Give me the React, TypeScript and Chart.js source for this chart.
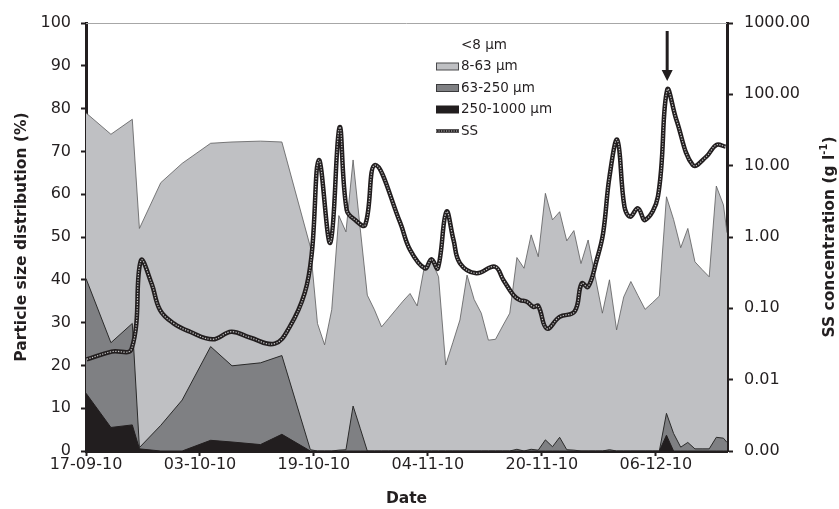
import React, { useEffect, useRef } from 'react';
import { Chart, registerables } from 'chart.js';

Chart.register(...registerables);

// ---- Data ----
const BASE_DATE_UTC = Date.UTC(2010, 8, 17); // 17-09-10 = day 0
const dateTickDays = [0, 16, 32, 48, 64, 80];
const pctTicks = [0, 10, 20, 30, 40, 50, 60, 70, 80, 90, 100];
const ssTicks = [0.001, 0.01, 0.1, 1, 10, 100, 1000];

// sample days (days after 17-09-10) for particle size distribution
const sizeDays = [
  0, 3.5, 6.5, 7.5, 10.5, 13.5, 17.5, 20.5, 24.5, 27.5,
  31.5, 32.5, 33.5, 34.5, 35.5, 36.5, 37.5, 38.5, 39.5, 40.5,
  41.5, 42.5, 43.5, 44.5, 45.5, 46.5, 47.5, 48.5, 49.5, 50.5,
  51.5, 52.5, 53.5, 54.5, 55.5, 56.5, 57.5, 58.5, 59.5, 60.5,
  61.5, 62.5, 63.5, 64.5, 65.5, 66.5, 67.5, 68.5, 69.5, 70.5,
  71.5, 72.5, 73.5, 74.5, 75.5, 76.5, 77.5, 78.5, 79.5, 80.5,
  81.5, 82.5, 83.5, 84.5, 85.5, 86.5, 87.5, 88.5, 89.5, 90,
];
// cumulative % (> 8 µm): top of 8-63 µm area
const cum8to1000 = [
  79, 74, 77.5, 52, 62.7, 67.2, 71.9, 72.2, 72.4, 72.2,
  47.7, 29.8, 24.8, 33, 55, 51.2, 68, 52, 36.4, 33,
  29, 31, 33, 35, 36.8, 33.9, 43, 44.6, 40.7, 20.1,
  25.3, 30.6, 41.1, 35.4, 32.2, 25.9, 26.1, 29.2, 32.2, 45.2,
  42.7, 50.5, 45.4, 60.2, 54, 55.9, 49.1, 51.5, 43.8, 49.3,
  40.7, 32.2, 40, 28.3, 36, 39.6, 36.3, 33.1, 34.6, 36.2,
  59.4, 54.1, 47.5, 52, 44.2, 42.4, 40.7, 61.9, 57.5, 51,
];
// cumulative % (> 63 µm): top of 63-250 µm area
const cum63to1000 = [
  40.3, 25.3, 29.8, 0.8, 6, 11.9, 24.4, 19.9, 20.6, 22.3,
  0.3, 0, 0, 0, 0.2, 0.3, 10.5, 5.3, 0, 0,
  0, 0, 0, 0, 0, 0, 0, 0, 0, 0,
  0, 0, 0, 0, 0, 0, 0, 0, 0, 0.4,
  0, 0.4, 0.2, 2.6, 1.0, 3.2, 0.3, 0.2, 0, 0,
  0, 0, 0.3, 0, 0, 0, 0, 0, 0, 0,
  8.8, 4.1, 0.9, 2.0, 0.5, 0.5, 0.5, 3.2, 3.0, 2,
];
// % 250-1000 µm
const pct250to1000 = [
  13.5, 5.5, 6.1, 0.5, 0, 0, 2.5, 2.1, 1.5, 3.9,
  0, 0, 0, 0, 0, 0, 0, 0, 0, 0,
  0, 0, 0, 0, 0, 0, 0, 0, 0, 0,
  0, 0, 0, 0, 0, 0, 0, 0, 0, 0,
  0, 0, 0, 0, 0, 0, 0, 0, 0, 0,
  0, 0, 0, 0, 0, 0, 0, 0, 0, 0,
  3.7, 0, 0, 0, 0, 0, 0, 0, 0, 0,
];

// suspended sediment concentration (g l-1)
const ssDays = [
  0.1, 3.6, 6.4, 7.7, 9.2, 10.4, 12.3, 14.6, 17.8, 20.4,
  23.0, 26.5, 28.6, 30.7, 31.7, 32.7, 34.3, 35.6, 36.6, 37.8,
  39.2, 40.6, 44.1, 45.5, 47.6, 48.5, 49.4, 50.6, 51.6, 52.5,
  54.8, 57.4, 58.6, 60.0, 60.9, 61.9, 62.8, 63.5, 64.7, 66.5,
  68.6, 69.6, 70.5, 71.7, 72.6, 73.5, 74.6, 75.6, 76.4, 77.5,
  78.5, 80.3, 81.6, 82.9, 85.2, 87.1, 88.5, 89.8,
];
const ssValues = [
  0.0193, 0.0247, 0.027, 0.466, 0.224, 0.0946, 0.0616, 0.047, 0.0368, 0.047,
  0.039, 0.032, 0.055, 0.163, 0.59, 12, 0.83, 34.5, 2.4, 1.73,
  1.47, 10.2, 1.6, 0.66, 0.363, 0.486, 0.363, 2.26, 0.91, 0.43,
  0.31, 0.384, 0.25, 0.154, 0.131, 0.124, 0.105, 0.108, 0.052, 0.076,
  0.09, 0.224, 0.2, 0.475, 1.12, 7.0, 22.9, 2.66, 1.93, 2.52,
  1.73, 3.67, 115, 43.7, 10.2, 13.4, 19.5, 18.5,
];

const legendLabels = ['<8 µm', '8-63 µm', '63-250 µm', '250-1000 µm', 'SS'];

// ---- Styles ----
const FONT = '"DejaVu Sans", sans-serif';
const C_LIGHT = '#bfc0c3';
const C_MID = '#7f8083';
const C_DARK = '#221e1f';
const C_TEXT = '#231f20';

function fmtDate(day: number): string {
  const d = new Date(BASE_DATE_UTC + day * 86400000);
  const dd = String(d.getUTCDate()).padStart(2, '0');
  const mm = String(d.getUTCMonth() + 1).padStart(2, '0');
  const yy = String(d.getUTCFullYear() % 100).padStart(2, '0');
  return `${dd}-${mm}-${yy}`;
}

const decorPlugin = {
  id: 'decor',
  afterDraw(chart: any) {
    const { ctx, chartArea: a, scales } = chart;
    const xs = scales.x;
    const y2 = scales.y2;
    ctx.save();

    // thin grey top frame line
    ctx.strokeStyle = '#a7a7a7';
    ctx.lineWidth = 1;
    ctx.beginPath();
    ctx.moveTo(a.left, a.top + 0.5);
    ctx.lineTo(a.right, a.top + 0.5);
    ctx.stroke();

    // arrow pointing at the SS maximum
    let im = 0;
    ssValues.forEach((v, i) => { if (v > ssValues[im]) im = i; });
    const px = xs.getPixelForValue(ssDays[im]);
    const py = y2.getPixelForValue(ssValues[im]);
    const tip = py - 9;
    const top = a.top + 8;
    ctx.strokeStyle = C_DARK;
    ctx.fillStyle = C_DARK;
    ctx.lineWidth = 3;
    ctx.beginPath();
    ctx.moveTo(px, top);
    ctx.lineTo(px, tip - 9);
    ctx.stroke();
    ctx.beginPath();
    ctx.moveTo(px - 5.5, tip - 11);
    ctx.lineTo(px + 5.5, tip - 11);
    ctx.lineTo(px, tip);
    ctx.closePath();
    ctx.fill();

    // legend inside plot
    const bx = a.left + 350;
    const rowY0 = a.top + 22;
    const rowH = 21.5;
    const fills = ['#ffffff', C_LIGHT, C_MID, C_DARK];
    const strokes = [null, '#4a4a4c', '#3a3a3c', C_DARK];
    ctx.font = `13.5px ${FONT}`;
    ctx.textBaseline = 'middle';
    ctx.textAlign = 'left';
    legendLabels.forEach((lab, i) => {
      const cy = rowY0 + i * rowH;
      if (i < 4) {
        if (strokes[i]) {
          ctx.fillStyle = fills[i];
          ctx.fillRect(bx, cy - 3.5, 23, 7);
          ctx.strokeStyle = strokes[i] as string;
          ctx.lineWidth = 1;
          ctx.strokeRect(bx + 0.5, cy - 3.5, 22, 7);
        }
      } else {
        ctx.strokeStyle = C_DARK;
        ctx.lineWidth = 3.5;
        ctx.beginPath();
        ctx.moveTo(bx, cy);
        ctx.lineTo(bx + 23, cy);
        ctx.stroke();
        ctx.strokeStyle = '#c8c8c8';
        ctx.lineWidth = 1;
        ctx.setLineDash([1.2, 1.3]);
        ctx.beginPath();
        ctx.moveTo(bx, cy);
        ctx.lineTo(bx + 23, cy);
        ctx.stroke();
        ctx.setLineDash([]);
      }
      ctx.fillStyle = C_TEXT;
      ctx.fillText(lab, bx + 25, cy);
    });

    // right axis title with superscript
    const main1 = 'SS concentration (g l';
    const sup = '-1';
    const main2 = ')';
    const fMain = `bold 15.5px ${FONT}`;
    const fSup = `bold 10px ${FONT}`;
    ctx.font = fMain;
    const w1 = ctx.measureText(main1).width;
    const w3 = ctx.measureText(main2).width;
    ctx.font = fSup;
    const w2 = ctx.measureText(sup).width;
    const total = w1 + w2 + w3;
    ctx.translate(chart.width - 9, (a.top + a.bottom) / 2);
    ctx.rotate(-Math.PI / 2);
    ctx.fillStyle = C_TEXT;
    ctx.textBaseline = 'middle';
    ctx.textAlign = 'left';
    let tx = -total / 2;
    ctx.font = fMain;
    ctx.fillText(main1, tx, 0);
    tx += w1;
    ctx.font = fSup;
    ctx.fillText(sup, tx, -6);
    tx += w2;
    ctx.font = fMain;
    ctx.fillText(main2, tx, 0);

    ctx.restore();
  },
};

export default function App() {
  const ref = useRef<HTMLCanvasElement | null>(null);

  useEffect(() => {
    document.body.style.margin = '0';
    const canvas = ref.current;
    if (!canvas) return;

    const toPts = (xsArr: number[], ysArr: number[]) => xsArr.map((x, i) => ({ x, y: ysArr[i] }));

    const chart = new Chart(canvas, {
      type: 'line',
      data: {
        datasets: [
          {
            label: 'SS inner',
            data: toPts(ssDays, ssValues),
            xAxisID: 'x',
            yAxisID: 'y2',
            borderColor: '#c4c4c4',
            borderWidth: 1.2,
            borderDash: [1.3, 1.4],
            tension: 0.4,
            pointRadius: 0,
            fill: false,
            order: 0,
          },
          {
            label: 'SS',
            data: toPts(ssDays, ssValues),
            xAxisID: 'x',
            yAxisID: 'y2',
            borderColor: C_DARK,
            borderWidth: 4.5,
            tension: 0.4,
            pointRadius: 0,
            fill: false,
            order: 1,
          },
          {
            label: '250-1000 µm',
            data: toPts(sizeDays, pct250to1000),
            xAxisID: 'x',
            yAxisID: 'y',
            borderColor: C_DARK,
            borderWidth: 1,
            backgroundColor: C_DARK,
            fill: 'origin',
            tension: 0,
            pointRadius: 0,
            order: 2,
          },
          {
            label: '63-250 µm',
            data: toPts(sizeDays, cum63to1000),
            xAxisID: 'x',
            yAxisID: 'y',
            borderColor: '#2a2a2a',
            borderWidth: 1,
            backgroundColor: C_MID,
            fill: 'origin',
            tension: 0,
            pointRadius: 0,
            order: 3,
          },
          {
            label: '8-63 µm',
            data: toPts(sizeDays, cum8to1000),
            xAxisID: 'x',
            yAxisID: 'y',
            borderColor: '#5a5a5c',
            borderWidth: 0.8,
            backgroundColor: C_LIGHT,
            fill: 'origin',
            tension: 0,
            pointRadius: 0,
            order: 4,
          },
        ],
      },
      options: {
        responsive: false,
        animation: false,
        devicePixelRatio: 1,
        layout: { padding: { top: 23, left: 0, right: 0, bottom: 0 } },
        plugins: {
          legend: { display: false },
          tooltip: { enabled: false },
        },
        events: [],
        scales: {
          x: {
            type: 'linear',
            position: 'bottom',
            min: 0,
            max: 90,
            afterBuildTicks: (s: any) => { s.ticks = dateTickDays.map((v) => ({ value: v })); },
            afterFit: (s: any) => { s.height = 58; },
            ticks: {
              callback: (v: any) => fmtDate(Number(v)),
              font: { family: FONT, size: 16 },
              color: C_TEXT,
              padding: -1,
              maxRotation: 0,
              autoSkip: false,
            },
            grid: { drawOnChartArea: false, tickLength: 5, tickWidth: 2, tickColor: C_DARK },
            border: { display: true, color: C_DARK, width: 3 },
            title: {
              display: true,
              text: 'Date',
              font: { family: FONT, size: 15.5, weight: 'bold' },
              color: C_TEXT,
              padding: { top: 0, bottom: 1 },
            },
          },
          y: {
            type: 'linear',
            position: 'left',
            min: 0,
            max: 100,
            afterBuildTicks: (s: any) => { s.ticks = pctTicks.map((v) => ({ value: v })); },
            afterFit: (s: any) => { s.width = 86; },
            ticks: {
              font: { family: FONT, size: 16 },
              color: C_TEXT,
              padding: 10,
            },
            grid: { drawOnChartArea: false, tickLength: 5, tickWidth: 2, tickColor: C_DARK },
            border: { display: true, color: C_DARK, width: 3 },
            title: {
              display: true,
              text: 'Particle size distribution (%)',
              font: { family: FONT, size: 15.5, weight: 'bold' },
              color: C_TEXT,
              padding: { top: 13, bottom: 0 },
            },
          },
          y2: {
            type: 'logarithmic',
            position: 'right',
            min: 0.001,
            max: 1000,
            afterBuildTicks: (s: any) => { s.ticks = ssTicks.map((v) => ({ value: v })); },
            afterFit: (s: any) => { s.width = 112; },
            ticks: {
              callback: (v: any) => Number(v).toFixed(2),
              font: { family: FONT, size: 16 },
              color: C_TEXT,
              padding: 11,
              autoSkip: false,
            },
            grid: { drawOnChartArea: false, tickLength: 6, tickWidth: 2, tickColor: C_DARK },
            border: { display: true, color: C_DARK, width: 3 },
          },
        },
      } as any,
      plugins: [decorPlugin],
    });

    return () => chart.destroy();
  }, []);

  return (
    <div style={{ width: 839, height: 509, position: 'relative', background: '#fff' }}>
      <canvas ref={ref} width={839} height={509} style={{ display: 'block' }} />
    </div>
  );
}
